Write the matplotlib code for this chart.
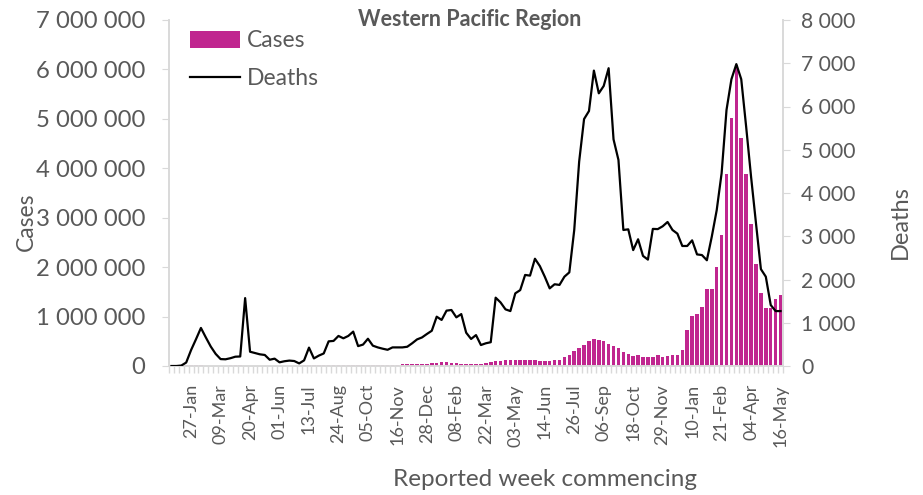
import matplotlib
matplotlib.use("Agg")
import matplotlib.pyplot as plt
import matplotlib.ticker as mticker
from matplotlib.patches import Patch
from matplotlib.lines import Line2D
import numpy as np
import pandas as pd

plt.rcParams['font.family'] = ['Lato', 'DejaVu Sans']

# Weekly categories (week commencing), 30-Dec-2019 .. 16-May-2022
weeks = pd.date_range('2019-12-30', periods=125, freq='7D')
week_labels = [d.strftime('%d-%b') for d in weeks]

cases = [
    0, 1000, 8000, 15000, 18000, 20000, 15000, 8000, 6000, 8000,
    10000, 10000, 12000, 14000, 12000, 9000, 6000, 5000, 5000, 5000,
    5000, 5000, 6000, 6000, 7000, 8000, 10000, 12000, 15000, 18000,
    22000, 28000, 30000, 30000, 28000, 25000, 22000, 20000, 20000, 20000,
    18000, 18000, 18000, 18000, 20000, 22000, 28000, 32000, 35000, 40000,
    42000, 45000, 50000, 55000, 67000, 81000, 81000, 61000, 54000, 40000,
    40000, 40000, 40000, 47000, 61000, 74000, 94000, 108000, 121000, 121000,
    121000, 121000, 121000, 121000, 125000, 108000, 105000, 105000, 118000, 130000,
    175000, 222000, 303000, 364000, 430000, 515000, 546000, 526000, 506000, 452000,
    408000, 357000, 280000, 236000, 202000, 216000, 172000, 172000, 172000, 220000,
    189000, 209000, 229000, 229000, 324000, 728000, 1010000, 1050000, 1190000, 1560000,
    1560000, 2000000, 2650000, 3880000, 5010000, 6090000, 4610000, 3880000, 2870000, 2060000,
    1480000, 1180000, 1180000, 1360000, 1440000,
]

deaths = [
    0, 0, 10, 80, 370, 620, 880, 660, 450, 280,
    160, 155, 180, 215, 220, 1570, 330, 300, 270, 255,
    145, 170, 85, 110, 125, 115, 60, 130, 425, 175,
    240, 290, 570, 580, 695, 640, 695, 795, 460, 495,
    630, 470, 430, 400, 375, 430, 430, 430, 445, 525,
    615, 660, 740, 815, 1140, 1065, 1280, 1295, 1125, 1200,
    770, 625, 715, 485, 525, 550, 1580, 1470, 1310, 1270,
    1680, 1755, 2105, 2090, 2480, 2310, 2065, 1795, 1890, 1875,
    2065, 2165, 3145, 4725, 5710, 5895, 6830, 6305, 6475, 6885,
    5240, 4765, 3145, 3160, 2680, 2930, 2545, 2460, 3170, 3165,
    3230, 3330, 3145, 3060, 2775, 2775, 2905, 2580, 2565, 2445,
    2990, 3600, 4455, 5920, 6630, 6980, 6630, 5530, 4375, 3300,
    2240, 2065, 1410, 1270, 1270,
]

bar_color = '#C0268F'
grey = '#595959'
axis_grey = '#D9D9D9'

fig = plt.figure(figsize=(9.23, 4.95), dpi=100)
ax = fig.add_axes([169/923, 1-366/495, (783-169)/923, (366-20)/495])
ax2 = ax.twinx()

x = np.arange(len(weeks))
ax.bar(x, cases, width=0.72, color=bar_color, zorder=2)
ax2.plot(x, deaths, color='black', lw=1.6, zorder=3)

ax.set_xlim(-0.5, len(weeks)-0.5)
ax.set_ylim(0, 7000000)
ax2.set_ylim(0, 8000)

fmt = mticker.FuncFormatter(lambda v, p: f"{int(v):,}".replace(',', ' '))
ax.yaxis.set_major_locator(mticker.MultipleLocator(1000000))
ax2.yaxis.set_major_locator(mticker.MultipleLocator(1000))
ax.yaxis.set_major_formatter(fmt)
ax2.yaxis.set_major_formatter(fmt)

label_idx = list(range(4, len(weeks), 6))
ax.set_xticks(label_idx)
ax.set_xticklabels([week_labels[i] for i in label_idx], rotation=90)
ax.set_xticks(np.arange(-0.5, len(weeks), 1), minor=True)
ax.tick_params(axis='x', which='major', length=0, pad=13, labelsize=13, labelcolor=grey)
ax.tick_params(axis='x', which='minor', length=5, color=axis_grey, width=1)

ax.tick_params(axis='y', length=5, color=axis_grey, labelsize=17.2, labelcolor=grey, pad=12)
ax2.tick_params(axis='y', length=5, color=axis_grey, labelsize=15.2, labelcolor=grey, pad=8)

for a in (ax, ax2):
    for s in a.spines.values():
        s.set_color(axis_grey)
        s.set_linewidth(1.2)
    a.spines['top'].set_visible(False)

fig.text(26/923, 1-222/495, 'Cases', rotation=90, ha='center', va='center',
         fontsize=16.5, color=grey)
fig.text(900/923, 1-222/495, 'Deaths', rotation=90, ha='center', va='center',
         fontsize=17, color=grey)
fig.text(545/923, 1-480/495, 'Reported week commencing', ha='center', va='center',
         fontsize=17.5, color=grey)
fig.text(470/923, 1-20/495, 'Western Pacific Region', ha='center', va='center',
         fontsize=15.5, color=grey, fontweight='bold')

handles = [Patch(facecolor=bar_color, edgecolor='none'),
           Line2D([0], [0], color='black', lw=1.6)]
leg = ax2.legend(handles, ['Cases', 'Deaths'], loc='upper left',
                 bbox_to_anchor=(0.0, 1.03), frameon=False, fontsize=16.5,
                 handlelength=2.2, handleheight=0.8, handletextpad=0.3,
                 labelspacing=0.75)
for t in leg.get_texts():
    t.set_color(grey)

fig.savefig('out.png', dpi=100)
